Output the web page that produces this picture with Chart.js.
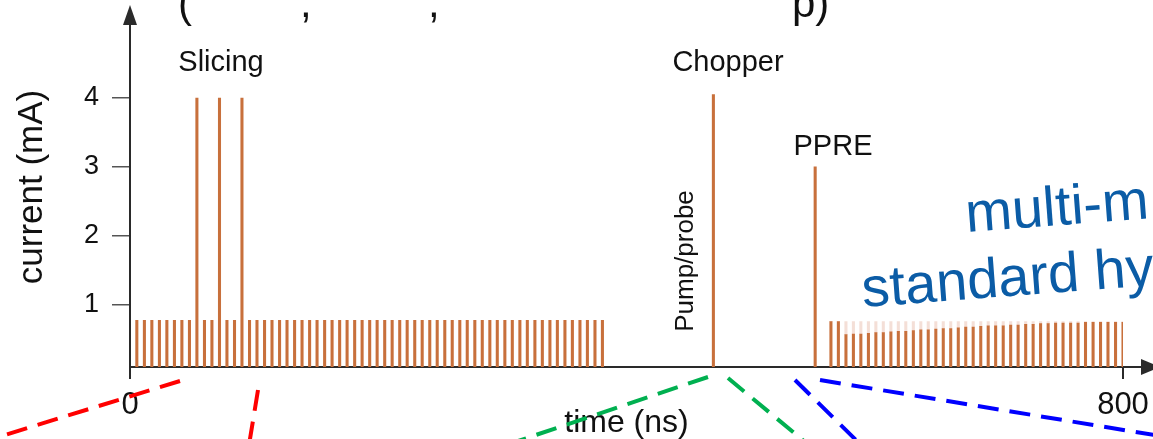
<!DOCTYPE html>
<html>
<head>
<meta charset="utf-8">
<script src="https://cdn.jsdelivr.net/npm/chart.js@4"></script>
<style>
  html, body { margin: 0; padding: 0; background: #fff; }
  #graphique { display: block; }
</style>
</head>
<body>
<canvas id="graphique" width="1153" height="439"></canvas>
<script>
// temps des impulsions (ns) et courant (mA)
const leftTimes = [
  5.5, 11.6, 17.6, 23.7, 29.7, 35.8, 41.8, 47.9, 53.9, 60.0,
  66.0, 72.1, 78.1, 84.2, 90.2, 96.3, 102.3, 108.4, 114.4, 120.5,
  126.5, 132.6, 138.6, 144.7, 150.7, 156.8, 162.8, 168.9, 174.9, 181.0,
  187.0, 193.1, 199.1, 205.2, 211.2, 217.3, 223.3, 229.4, 235.4, 241.5,
  247.5, 253.6, 259.6, 265.7, 271.7, 277.8, 283.8, 289.9, 295.9, 302.0,
  308.0, 314.1, 320.1, 326.2, 332.2, 338.3, 344.3, 350.4, 356.4, 362.5,
  368.5, 374.6, 380.6
];
const leftHeights = [
  0.77, 0.77, 0.77, 0.77, 0.77, 0.77, 0.77, 0.77, 4.0, 0.77,
  0.77, 4.0, 0.77, 0.77, 4.0, 0.77, 0.77, 0.77, 0.77, 0.77,
  0.77, 0.77, 0.77, 0.77, 0.77, 0.77, 0.77, 0.77, 0.77, 0.77,
  0.77, 0.77, 0.77, 0.77, 0.77, 0.77, 0.77, 0.77, 0.77, 0.77,
  0.77, 0.77, 0.77, 0.77, 0.77, 0.77, 0.77, 0.77, 0.77, 0.77,
  0.77, 0.77, 0.77, 0.77, 0.77, 0.77, 0.77, 0.77, 0.77, 0.77,
  0.77, 0.77, 0.77
];
const singleTimes = [470, 552];        // Chopper, PPRE
const singleHeights = [4.05, 3.0];
const rightTimes = [
  564.7, 570.7, 576.8, 582.8, 588.8, 594.9, 600.9, 606.9, 613.0, 619.0,
  625.0, 631.1, 637.1, 643.1, 649.2, 655.2, 661.2, 667.3, 673.3, 679.3,
  685.4, 691.4, 697.4, 703.5, 709.5, 715.5, 721.6, 727.6, 733.6, 739.7,
  745.7, 751.7, 757.8, 763.8, 769.8, 775.9, 781.9, 787.9, 794.0, 800.0
];
const rightHeights = [
  0.75, 0.75, 0.56, 0.57, 0.57, 0.58, 0.59, 0.59, 0.60, 0.61,
  0.61, 0.62, 0.63, 0.63, 0.64, 0.65, 0.65, 0.66, 0.67, 0.67,
  0.68, 0.69, 0.69, 0.69, 0.70, 0.70, 0.71, 0.71, 0.72, 0.72,
  0.73, 0.73, 0.73, 0.73, 0.74, 0.74, 0.74, 0.74, 0.74, 0.74
];
const rightEnvelope = [
  0.75, 0.75, 0.75, 0.75, 0.75, 0.75, 0.75, 0.75, 0.75, 0.75,
  0.75, 0.75, 0.75, 0.75, 0.75, 0.75, 0.75, 0.75, 0.75, 0.75,
  0.75, 0.75, 0.75, 0.75, 0.75, 0.75, 0.75, 0.75, 0.75, 0.75,
  0.75, 0.75, 0.75, 0.75, 0.75, 0.75, 0.75, 0.75, 0.75, 0.75
];
const xTicks = [0, 800];
const yTicks = [1, 2, 3, 4];

const FONT = "'Liberation Sans', Arial, sans-serif";
const PULSE = "#c8703c";
const AXIS = "#2a2a2a";

const pts = (xs, ys) => xs.map((x, i) => ({ x: x, y: ys[i] }));

// dessins hors données : flèches, légendes, pointillés
const overlay = {
    id: "overlay",
    afterDraw(chart) {
        const c = chart.ctx;
        const { left, right, top, bottom } = chart.chartArea;
        c.save();

        // flèches des axes
        c.strokeStyle = AXIS;
        c.fillStyle = AXIS;
        c.lineWidth = 2;
        c.beginPath();
        c.moveTo(right, bottom); c.lineTo(1145, bottom);
        c.moveTo(left, top); c.lineTo(left, 20);
        c.stroke();
        c.beginPath();
        c.moveTo(1160, bottom); c.lineTo(1141, bottom - 8); c.lineTo(1141, bottom + 8); c.closePath();
        c.fill();
        c.beginPath();
        c.moveTo(left, 5); c.lineTo(left - 7, 25); c.lineTo(left + 7, 25); c.closePath();
        c.fill();

        // textes noirs
        c.fillStyle = "#111";
        c.textAlign = "center";
        c.textBaseline = "alphabetic";
        c.font = "29px " + FONT;
        c.fillText("Slicing", 221, 71);
        c.fillText("Chopper", 728, 71);
        c.fillText("PPRE", 833, 155);

        c.save();
        c.translate(693, 261);
        c.rotate(-Math.PI / 2);
        c.font = "26px " + FONT;
        c.fillText("Pump/probe", 0, 0);
        c.restore();

        c.save();
        c.translate(42, 187);
        c.rotate(-Math.PI / 2);
        c.font = "35px " + FONT;
        c.fillText("current (mA)", 0, 0);
        c.restore();

        // ligne de texte coupée en haut
        c.font = "42px " + FONT;
        c.textAlign = "left";
        c.fillText("(", 178, 17);
        c.fillText(",", 300, 17);
        c.fillText(",", 428, 17);
        c.fillText("p)", 792, 17);

        // texte bleu incliné
        c.save();
        c.fillStyle = "#0b5ca6";
        c.font = "56px " + FONT;
        c.textAlign = "left";
        c.translate(863, 307);
        c.rotate(-4.3 * Math.PI / 180);
        c.fillText("standard hy", 0, 0);
        c.fillText("multi-m", 109, -67);
        c.restore();

        // pointillés de zoom
        c.lineWidth = 4;
        c.setLineDash([21, 11]);
        const dash = (color, x1, y1, x2, y2) => {
            c.strokeStyle = color;
            c.beginPath(); c.moveTo(x1, y1); c.lineTo(x2, y2); c.stroke();
        };
        dash("#ff0000", 180, 381, -5, 438);
        dash("#ff0000", 258, 390, 249, 445);
        dash("#00b050", 708, 377, 515, 442);
        dash("#00b050", 728, 378, 805, 442);
        dash("#0000ff", 795, 380, 858, 442);
        dash("#0000ff", 820, 380, 1160, 436);
        c.restore();
    }
};

document.addEventListener("DOMContentLoaded", function () {
    const ctx = document.getElementById("graphique").getContext("2d");

    new Chart(ctx, {
        type: "bar",
        data: {
            datasets: [
                { data: pts(leftTimes, leftHeights), backgroundColor: PULSE },
                { data: pts(singleTimes, singleHeights), backgroundColor: PULSE },
                { data: pts(rightTimes, rightHeights), backgroundColor: PULSE },
                {
                    data: rightTimes.map((x, i) => ({ x: x, y: [rightHeights[i], rightEnvelope[i]] })),
                    backgroundColor: "rgba(214,140,110,0.28)"
                }
            ]
        },
        options: {
            responsive: false,
            devicePixelRatio: 1,
            animation: false,
            layout: { padding: { left: 0, right: 30, top: 23, bottom: 0 } },
            datasets: { bar: { barThickness: 2.4, grouped: false, borderWidth: 0 } },
            plugins: { legend: { display: false }, tooltip: { enabled: false } },
            scales: {
                x: {
                    type: "linear",
                    min: 0,
                    max: 800,
                    offset: false,
                    afterBuildTicks: (s) => { s.ticks = xTicks.map(v => ({ value: v })); },
                    afterFit: (s) => { s.height = 72; },
                    border: { display: true, color: AXIS, width: 2 },
                    grid: { offset: false, drawOnChartArea: false, tickLength: 12, color: AXIS, lineWidth: 2 },
                    ticks: { color: "#111", font: { family: FONT, size: 31, lineHeight: 1.6 }, padding: 2, maxRotation: 0 },
                    title: { display: true, text: "time (ns)", color: "#111", font: { family: FONT, size: 32, lineHeight: 1.0 }, padding: { top: 0, bottom: 0 } }
                },
                y: {
                    min: 0.09,
                    max: 5.0,
                    afterBuildTicks: (s) => { s.ticks = yTicks.map(v => ({ value: v })); },
                    afterFit: (s) => { s.width = 130; },
                    border: { display: true, color: AXIS, width: 2 },
                    grid: { drawOnChartArea: false, tickLength: 18, color: "#555", lineWidth: 1.5 },
                    ticks: { color: "#111", font: { family: FONT, size: 27 }, padding: 13 }
                }
            }
        },
        plugins: [overlay]
    });
});
</script>
</body>
</html>
